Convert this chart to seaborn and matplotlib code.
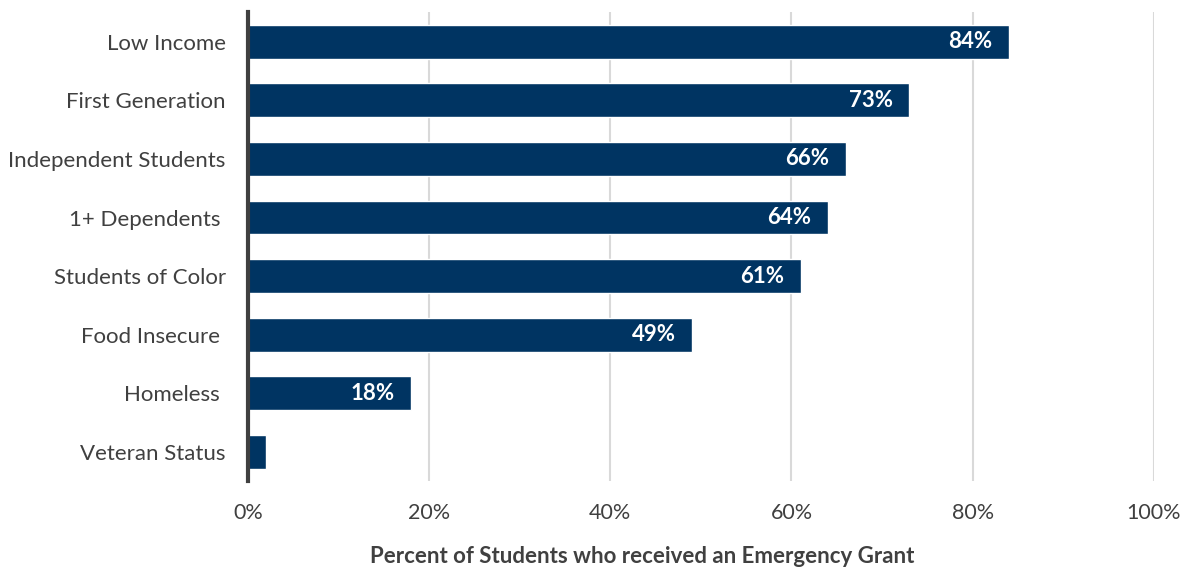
import matplotlib
matplotlib.use("Agg")
import matplotlib.pyplot as plt
import seaborn as sns
import pandas as pd

# Share of students who received an emergency grant, by group
groups = ["Low Income", "First Generation", "Independent Students", "1+ Dependents ",
          "Students of Color", "Food Insecure ", "Homeless ", "Veteran Status"]
percents = [84, 73, 66, 64, 61, 49, 18, 2]
ticks = [0, 20, 40, 60, 80, 100]
tick_labels = ["0%", "20%", "40%", "60%", "80%", "100%"]

df = pd.DataFrame({"group": groups, "pct": percents})

sns.set_style("white")
plt.rcParams["font.family"] = ["Lato", "DejaVu Sans"]

text_col = "#404040"
bar_col = "#003462"

fig = plt.figure(figsize=(11.87, 5.68), dpi=100)
ax = fig.add_axes([0.209, 0.153, 0.763, 0.825])

sns.barplot(data=df, x="pct", y="group", color=bar_col, width=0.58,
            saturation=1, ax=ax, zorder=3)

ax.set_xlim(0, 100)
ax.set_ylim(7.5, -0.5)
ax.set_xticks(ticks)
ax.set_xticklabels(tick_labels)
ax.xaxis.grid(True, color="#d9d9d9", linewidth=1.5, zorder=0)
ax.set_axisbelow(True)
ax.tick_params(axis="x", length=0, labelsize=15.5, colors=text_col, pad=16)
ax.tick_params(axis="y", length=0, labelsize=16, colors=text_col, pad=16)

for side in ["top", "right", "bottom"]:
    ax.spines[side].set_visible(False)
ax.spines["left"].set_color("#404040")
ax.spines["left"].set_linewidth(3)
ax.spines["left"].set_zorder(5)

for i, v in enumerate(percents):
    if v >= 10:
        ax.text(v - 1.8, i, f"{v}%", ha="right", va="center", color="white",
                fontsize=16, fontweight="bold", zorder=4)

ax.set_ylabel("")
ax.set_xlabel("")
fig.text(0.541, 0.021, "Percent of Students who received an Emergency Grant",
         ha="center", va="center", fontsize=16, fontweight="bold", color=text_col)

fig.savefig("out.png", dpi=100)
